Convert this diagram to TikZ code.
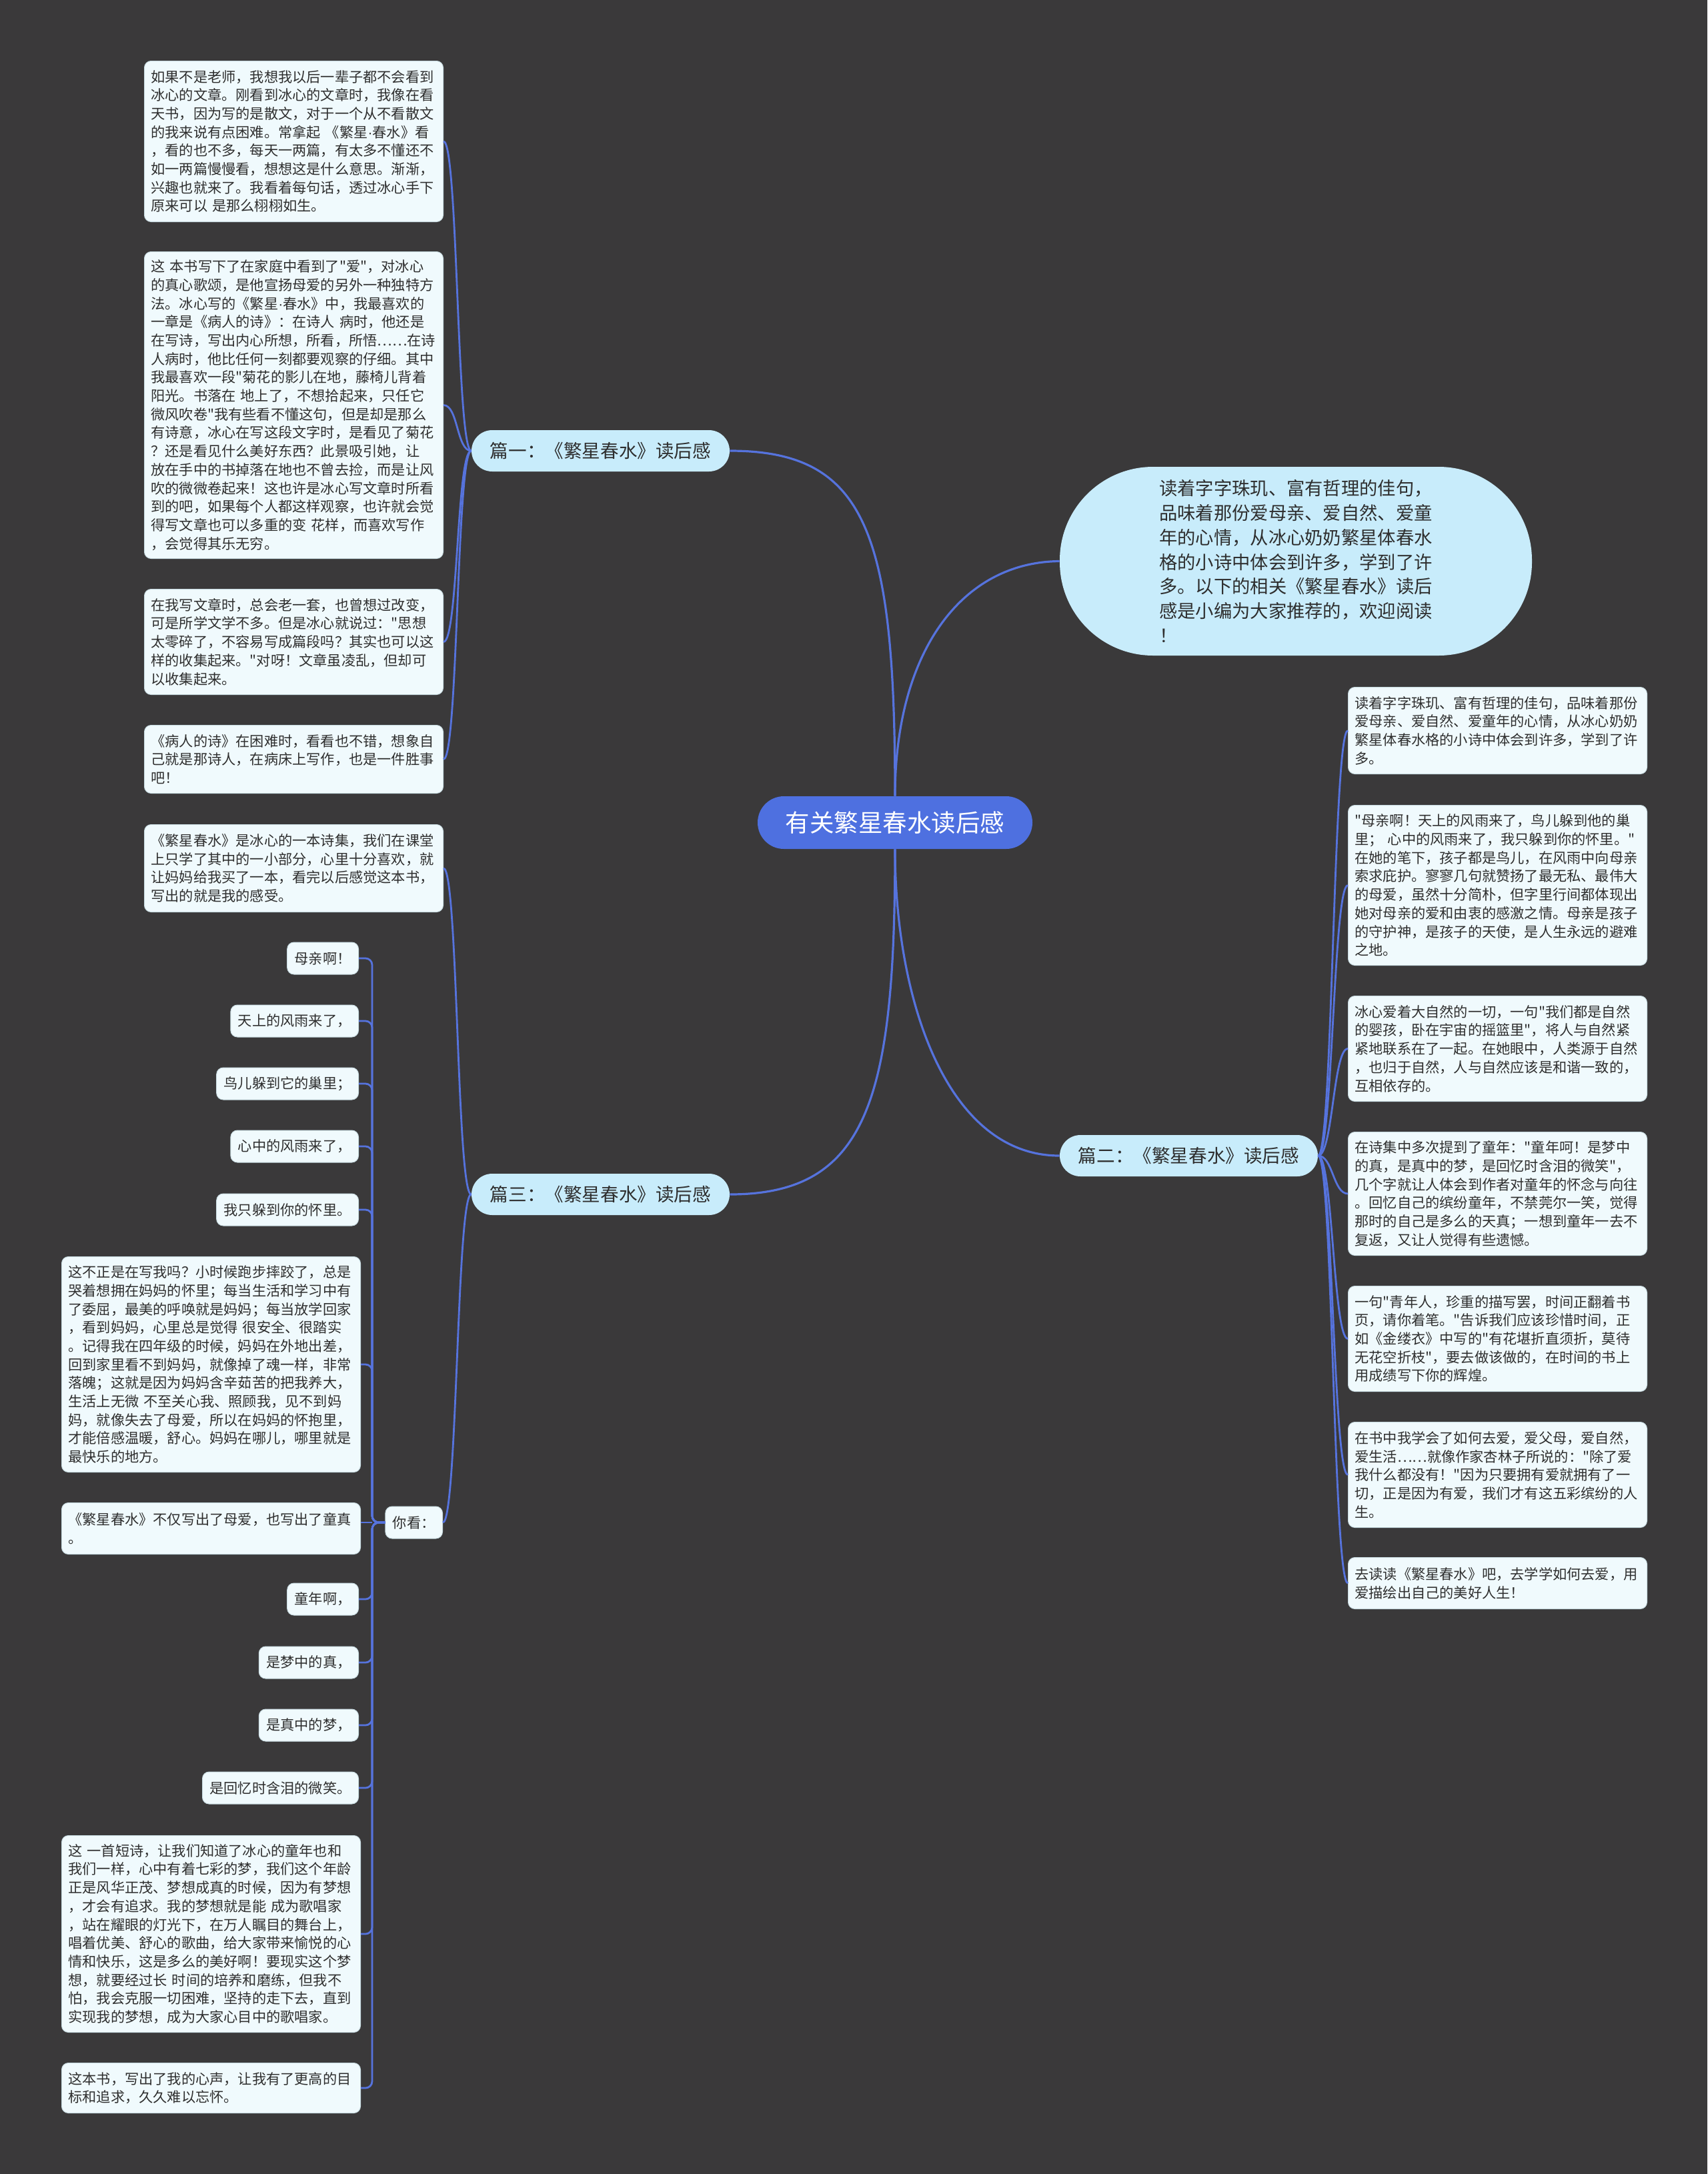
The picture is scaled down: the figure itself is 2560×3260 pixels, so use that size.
\documentclass[tikz,border=0pt]{standalone}
\usepackage{fontspec}
\newfontfamily\cjk{Noto Sans CJK SC}
\newfontfamily\latinf{Liberation Sans}
\newcommand\mdot{{\latinf\char"00B7}}
\definecolor{bgc}{HTML}{3A393A}
\definecolor{boxfill}{HTML}{F0FAFD}
\definecolor{boxline}{HTML}{C9DCE2}
\definecolor{pillfill}{HTML}{C8ECFB}
\definecolor{centerfill}{HTML}{4E70E0}
\definecolor{linkc}{HTML}{5673DD}
\definecolor{txt}{HTML}{2E2E2E}
\begin{document}
\begin{tikzpicture}[x=0.5pt,y=-0.5pt,
  tb/.style={draw=boxline, line width=0.5pt, fill=boxfill, rounded corners=5pt,
    text width=214pt, inner xsep=5pt, inner ysep=0pt, align=left, anchor=north west,
    text=txt, font=\cjk\fontsize{10.6pt}{13.85pt}\selectfont},
  sb/.style={draw=boxline, line width=0.5pt, fill=boxfill, rounded corners=5pt,
    inner xsep=5.5pt, inner ysep=0pt, minimum height=24pt, anchor=east,
    text=txt, font=\cjk\fontsize{10.6pt}{13.85pt}\selectfont},
  branch/.style={fill=pillfill, rounded corners=15.5pt, minimum width=193.5pt,
    minimum height=31pt, inner sep=0pt, text=txt,
    font=\cjk\fontsize{13.8pt}{16pt}\selectfont},
  centre/.style={fill=centerfill, rounded corners=19.7pt, minimum width=206pt,
    minimum height=39.5pt, inner sep=0pt, text=white,
    font=\cjk\fontsize{18.25pt}{21pt}\selectfont},
  bubble/.style={fill=pillfill, rounded corners=70pt, minimum width=354pt,
    minimum height=141.5pt, inner sep=0pt, align=left, text=txt,
    font=\cjk\fontsize{13.65pt}{18.35pt}\selectfont},
  mainlink/.style={draw=linkc, line width=1.6pt},
  link/.style={draw=linkc, line width=1.4pt},
  bracket/.style={draw=linkc, line width=1.4pt, rounded corners=5pt}
]
\useasboundingbox (0,0) rectangle (2560,3260);
\fill[bgc] (0,0) rectangle (2560,3260);

% central and main branches
\node[centre] (c) at (1342,1233.5) {有关繁星春水读后感};
\node[branch] (p1) at (900.5,676) {篇一：《繁星春水》读后感};
\node[branch] (p3) at (900.5,1791) {篇三：《繁星春水》读后感};
\node[branch] (p2) at (1782.5,1733) {篇二：《繁星春水》读后感};
\node[bubble] (intro) at (1943,841.5) {读着字字珠玑、富有哲理的佳句，\\品味着那份爱母亲、爱自然、爱童\\年的心情，从冰心奶奶繁星体春水\\格的小诗中体会到许多，学到了许\\多。以下的相关《繁星春水》读后\\感是小编为大家推荐的，欢迎阅读\\！};

% branch one children
\node[tb, minimum height=120.5pt] (a1) at (216,91) {如果不是老师，我想我以后一辈子都不会看到\\冰心的文章。刚看到冰心的文章时，我像在看\\天书，因为写的是散文，对于一个从不看散文\\\mbox{的我来说有点困难。常拿起~《繁星\mdot 春水》看}\\，看的也不多，每天一两篇，有太多不懂还不\\如一两篇慢慢看，想想这是什么意思。渐渐，\\兴趣也就来了。我看着每句话，透过冰心手下\\原来可以~是那么栩栩如生。};
\node[tb, minimum height=230pt] (a2) at (216,377) {这~本书写下了在家庭中看到了"爱"，对冰心\\的真心歌颂，是他宣扬母爱的另外一种独特方\\法。冰心写的《繁星\mdot 春水》中，我最喜欢的\\一章是《病人的诗》：在诗人~病时，他还是\\在写诗，写出内心所想，所看，所悟……在诗\\人病时，他比任何一刻都要观察的仔细。其中\\我最喜欢一段"菊花的影儿在地，藤椅儿背着\\阳光。书落在~地上了，不想拾起来，只任它\\微风吹卷"我有些看不懂这句，但是却是那么\\有诗意，冰心在写这段文字时，是看见了菊花\\？还是看见什么美好东西？此景吸引她，让\\放在手中的书掉落在地也不曾去捡，而是让风\\吹的微微卷起来！这也许是冰心写文章时所看\\到的吧，如果每个人都这样观察，也许就会觉\\得写文章也可以多重的变~花样，而喜欢写作\\，会觉得其乐无穷。};
\node[tb, minimum height=79pt] (a3) at (216,883) {在我写文章时，总会老一套，也曾想过改变，\\可是所学文学不多。但是冰心就说过："思想\\太零碎了，不容易写成篇段吗？其实也可以这\\样的收集起来。"对呀！文章虽凌乱，但却可\\以收集起来。};
\node[tb, minimum height=51pt] (a4) at (216,1087) {《病人的诗》在困难时，看看也不错，想象自\\己就是那诗人，在病床上写作，也是一件胜事\\吧！};

% branch three children
\node[tb, minimum height=65.5pt] (a5) at (216,1236) {《繁星春水》是冰心的一本诗集，我们在课堂\\上只学了其中的一小部分，心里十分喜欢，就\\让妈妈给我买了一本，看完以后感觉这本书，\\写出的就是我的感受。};
\node[sb] (nk) at (664,2283) {你看：};
\coordinate (jn) at (558,2283);

\node[sb] (s1) at (538,1437) {母亲啊！};
\node[sb] (s2) at (538,1531) {天上的风雨来了，};
\node[sb] (s3) at (538,1625) {鸟儿躲到它的巢里；};
\node[sb] (s4) at (538,1719) {心中的风雨来了，};
\node[sb] (s5) at (538,1814) {我只躲到你的怀里。};
\node[tb, minimum height=161.5pt] (b1) at (92,1884) {这不正是在写我吗？小时候跑步摔跤了，总是\\哭着想拥在妈妈的怀里；每当生活和学习中有\\了委屈，最美的呼唤就是妈妈；每当放学回家\\，看到妈妈，心里总是觉得~很安全、很踏实\\。记得我在四年级的时候，妈妈在外地出差，\\回到家里看不到妈妈，就像掉了魂一样，非常\\落魄；这就是因为妈妈含辛茹苦的把我养大，\\生活上无微~不至关心我、照顾我，见不到妈\\妈，就像失去了母爱，所以在妈妈的怀抱里，\\才能倍感温暖，舒心。妈妈在哪儿，哪里就是\\最快乐的地方。};
\node[tb, minimum height=38.5pt] (b2) at (92,2253) {《繁星春水》不仅写出了母爱，也写出了童真\\。};
\node[sb] (s6) at (538,2398) {童年啊，};
\node[sb] (s7) at (538,2493) {是梦中的真，};
\node[sb] (s8) at (538,2587) {是真中的梦，};
\node[sb] (s9) at (538,2681) {是回忆时含泪的微笑。};
\node[tb, minimum height=147.5pt] (b3) at (92,2752) {这~一首短诗，让我们知道了冰心的童年也和\\我们一样，心中有着七彩的梦，我们这个年龄\\正是风华正茂、梦想成真的时候，因为有梦想\\，才会有追求。我的梦想就是能~成为歌唱家\\，站在耀眼的灯光下，在万人瞩目的舞台上，\\唱着优美、舒心的歌曲，给大家带来愉悦的心\\情和快乐，这是多么的美好啊！要现实这个梦\\想，就要经过长~时间的培养和磨练，但我不\\怕，我会克服一切困难，坚持的走下去，直到\\实现我的梦想，成为大家心目中的歌唱家。};
\node[tb, minimum height=37.5pt] (b4) at (92,3093) {这本书，写出了我的心声，让我有了更高的目\\标和追求，久久难以忘怀。};

% branch two children
\node[tb, minimum height=65pt] (r1) at (2021,1030) {读着字字珠玑、富有哲理的佳句，品味着那份\\爱母亲、爱自然、爱童年的心情，从冰心奶奶\\繁星体春水格的小诗中体会到许多，学到了许\\多。};
\node[tb, minimum height=120pt] (r2) at (2021,1207) {"母亲啊！天上的风雨来了，鸟儿躲到他的巢\\里；~心中的风雨来了，我只躲到你的怀里。"\\在她的笔下，孩子都是鸟儿，在风雨中向母亲\\索求庇护。寥寥几句就赞扬了最无私、最伟大\\的母爱，虽然十分简朴，但字里行间都体现出\\她对母亲的爱和由衷的感激之情。母亲是孩子\\的守护神，是孩子的天使，是人生永远的避难\\之地。};
\node[tb, minimum height=79pt] (r3) at (2021,1493) {冰心爱着大自然的一切，一句"我们都是自然\\的婴孩，卧在宇宙的摇篮里"，将人与自然紧\\紧地联系在了一起。在她眼中，人类源于自然\\，也归于自然，人与自然应该是和谐一致的，\\互相依存的。};
\node[tb, minimum height=92.5pt] (r4) at (2021,1697) {在诗集中多次提到了童年："童年呵！是梦中\\的真，是真中的梦，是回忆时含泪的微笑"，\\几个字就让人体会到作者对童年的怀念与向往\\。回忆自己的缤纷童年，不禁莞尔一笑，觉得\\那时的自己是多么的天真；一想到童年一去不\\复返，又让人觉得有些遗憾。};
\node[tb, minimum height=79pt] (r5) at (2021,1928) {一句"青年人，珍重的描写罢，时间正翻着书\\页，请你着笔。"告诉我们应该珍惜时间，正\\如《金缕衣》中写的"有花堪折直须折，莫待\\无花空折枝"，要去做该做的，在时间的书上\\用成绩写下你的辉煌。};
\node[tb, minimum height=79pt] (r6) at (2021,2132) {在书中我学会了如何去爱，爱父母，爱自然，\\爱生活……就像作家杏林子所说的："除了爱\\我什么都没有！"因为只要拥有爱就拥有了一\\切，正是因为有爱，我们才有这五彩缤纷的人\\生。};
\node[tb, minimum height=38.5pt] (r7) at (2021,2335) {去读读《繁星春水》吧，去学学如何去爱，用\\爱描绘出自己的美好人生！};

% main connectors
\draw[mainlink] (p1.east) .. controls (1300,676) and (1342,800) .. (c.north);
\draw[mainlink] (intro.west) .. controls (1440,843) and (1342,980) .. (c.north);
\draw[mainlink] (c.south) .. controls (1342,1650) and (1300,1791) .. (p3.east);
\draw[mainlink] (c.south) .. controls (1342,1500) and (1420,1733) .. (p2.west);

% branch one links
\foreach \n in {a1,a2,a3,a4}
  \draw[link] (p1.west) .. controls +(-22,0) and +(22,0) .. (\n.east);
% branch three links
\foreach \n in {a5,nk}
  \draw[link] (p3.west) .. controls +(-22,0) and +(22,0) .. (\n.east);
% branch two links
\foreach \n in {r1,r2,r3,r4,r5,r6,r7}
  \draw[link] (p2.east) .. controls +(22,0) and +(-22,0) .. (\n.west);

% bracket of "你看："
\foreach \n in {s1,s2,s3,s4,s5,b1,s6,s7,s8,s9,b3,b4}
  \draw[bracket] (nk.west) -- (jn) |- (\n.east);
\draw[link] (jn) -- (b2.east |- jn);
\end{tikzpicture}
\end{document}
